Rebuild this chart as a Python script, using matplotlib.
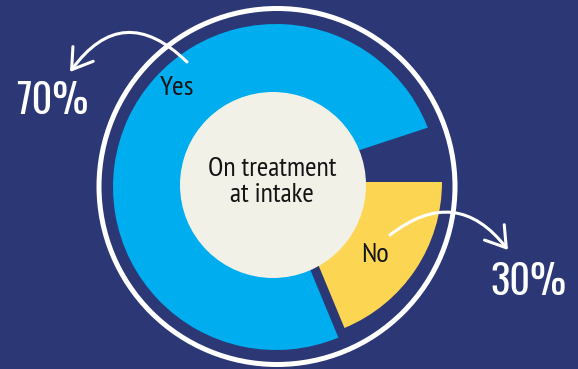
import matplotlib
matplotlib.use("Agg")
import matplotlib.pyplot as plt
from matplotlib.patches import Wedge, Circle, FancyArrowPatch

# ---- data ----
categories = ["Yes", "No"]
percent = [70, 30]                 # printed shares
arc_share = [76.25, 18.75]         # share of the circle each coloured slice spans in the picture
gap_share = 100 - sum(arc_share)   # empty notch between the slices
center_title = "On treatment\nat intake"

# ---- style ----
NAVY = "#2b3875"
BLUE = "#00adee"
YELLOW = "#fcd652"
CREAM = "#f1f1e7"
W, H = 578, 369
LABEL_FONT = ["PT Sans Narrow", "DejaVu Sans"]
PCT_FONT = ["Oswald", "DejaVu Sans"]

plt.rcParams["font.family"] = LABEL_FONT

fig = plt.figure(figsize=(W / 100, H / 100), dpi=100, facecolor=NAVY)
ax = fig.add_axes([0, 0, 1, 1])
ax.set_xlim(0, W)
ax.set_ylim(0, H)
ax.set_aspect("equal")
ax.axis("off")
ax.set_facecolor(NAVY)


def P(x, y):
    """pixel position (top-left origin) -> axes data"""
    return (x, H - y)


# slice angles (clockwise from 3 o'clock, No first)
no_span = arc_share[1] / 100 * 360
gap_span = gap_share / 100 * 360
no_t1, no_t2 = -no_span, 0
yes_t1, yes_t2 = gap_span, 360 - no_span

centre = P(276, 187)
ax.add_patch(Wedge(centre, 163, yes_t1, yes_t2, facecolor=BLUE, edgecolor="none", zorder=2))
# notch cut between the slices
ax.add_patch(Wedge(P(262.5, 182), 185, 0, gap_span + 0.2, facecolor=NAVY, edgecolor="none", zorder=3))
ax.add_patch(Wedge(P(284, 182), 158, no_t1, no_t2, facecolor=YELLOW, edgecolor="none", zorder=3))

# outer white ring
ax.add_patch(Circle(P(277, 186.5), 178, facecolor="none", edgecolor="white", lw=3.6, zorder=4))

# centre disc
ax.add_patch(Circle(P(273, 185), 93, facecolor=CREAM, edgecolor="none", zorder=5))
ax.text(*P(272, 182), center_title, ha="center", va="center", fontsize=20,
        color="#141414", linespacing=1.15, zorder=6)

# slice labels
ax.text(*P(177, 88), categories[0], ha="center", va="center", fontsize=20.5, color="#141414", zorder=6)
ax.text(*P(375, 255), categories[1], ha="center", va="center", fontsize=20.5, color="#141414", zorder=6)

# percentages
ax.text(*P(52, 101), f"{percent[0]}%", ha="center", va="center", fontsize=29,
        fontweight="bold", family=PCT_FONT, color="white", zorder=6)
ax.text(*P(528, 282), f"{percent[1]}%", ha="center", va="center", fontsize=29,
        fontweight="bold", family=PCT_FONT, color="white", zorder=6)

# curved arrows
arrow_style = "->,head_length=0.7,head_width=0.45"
ax.add_patch(FancyArrowPatch(P(187, 62), P(70, 72), connectionstyle="arc3,rad=0.58",
                             arrowstyle=arrow_style, mutation_scale=20, color="white",
                             lw=2.2, shrinkA=0, shrinkB=0, capstyle="round", zorder=7))
ax.add_patch(FancyArrowPatch(P(390, 235), P(508, 250), connectionstyle="arc3,rad=-0.5",
                             arrowstyle=arrow_style, mutation_scale=20, color="white",
                             lw=2.2, shrinkA=0, shrinkB=0, capstyle="round", zorder=7))

fig.savefig("out.png", dpi=100, facecolor=NAVY)
